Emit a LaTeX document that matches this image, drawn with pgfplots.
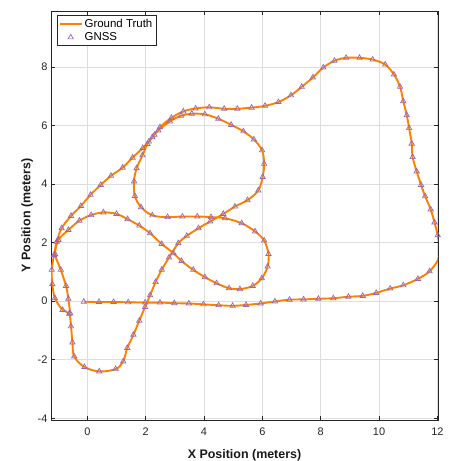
\documentclass[border=0pt]{standalone}
\usepackage{pgfplots}
\pgfplotsset{compat=1.18}
\usepackage{pgfplotstable}
\usepackage{fontspec}
\setmainfont{Liberation Sans}

\definecolor{gtorange}{RGB}{255,128,0}
\definecolor{gnsspurple}{RGB}{148,103,189}
\definecolor{axgray}{RGB}{38,38,38}

\pgfplotsset{
    linelegend/.style={legend image code/.code={\draw[##1] (0bp,0bp) -- (22bp,0bp);}},
    marklegend/.style={legend image code/.code={\draw[mark repeat=2,mark phase=2,##1]
        plot coordinates {(0bp,0bp) (11bp,0bp) (22bp,0bp)};}},
}

% trajectory (metres)
\pgfplotstableread{
x y
-0.12 -0.02
0.40 -0.03
0.90 -0.03
1.40 -0.04
1.98 -0.05
2.49 -0.05
2.98 -0.07
3.48 -0.08
3.98 -0.11
4.50 -0.14
4.98 -0.16
5.44 -0.13
5.94 -0.08
6.43 -0.01
6.93 0.05
7.41 0.06
7.92 0.08
8.43 0.10
8.95 0.15
9.44 0.18
9.90 0.28
10.38 0.43
10.83 0.54
11.33 0.76
11.73 1.02
12.03 1.43
12.07 1.86
12.01 2.25
11.90 2.69
11.77 3.13
11.58 3.58
11.44 3.97
11.29 4.43
11.15 4.92
11.12 5.38
11.03 5.91
10.95 6.35
10.83 6.83
10.72 7.32
10.51 7.74
10.21 8.08
9.78 8.25
9.33 8.31
8.87 8.31
8.47 8.21
8.09 7.98
7.73 7.64
7.35 7.32
6.98 7.03
6.55 6.80
6.09 6.67
5.63 6.61
5.14 6.57
4.69 6.57
4.18 6.62
3.71 6.58
3.29 6.48
2.88 6.26
2.49 5.94
2.30 5.68
2.11 5.45
1.90 5.23
1.55 4.90
1.21 4.56
0.81 4.28
0.46 3.97
0.11 3.63
-0.22 3.25
-0.56 2.91
-0.88 2.49
-1.05 2.03
-1.14 1.58
-1.22 1.07
-1.20 0.58
-1.11 0.10
-0.85 -0.30
-0.62 -0.43
-0.56 -0.86
-0.51 -1.41
-0.45 -1.89
-0.10 -2.25
0.41 -2.40
0.97 -2.32
1.23 -2.06
1.37 -1.60
1.58 -1.15
1.78 -0.67
1.98 -0.20
2.15 0.20
2.34 0.65
2.55 1.07
2.80 1.49
3.12 1.98
3.41 2.23
3.81 2.49
4.21 2.72
4.66 2.98
5.06 3.23
5.49 3.45
5.86 3.78
6.01 4.24
6.06 4.69
5.99 5.15
5.71 5.52
5.35 5.80
4.93 6.02
4.49 6.23
4.03 6.38
3.58 6.40
3.21 6.33
2.83 6.14
2.43 5.83
2.23 5.60
2.06 5.37
1.89 4.98
1.69 4.54
1.60 4.09
1.63 3.59
1.84 3.21
2.23 2.93
2.75 2.87
3.26 2.89
3.77 2.89
4.24 2.87
4.72 2.83
5.29 2.66
5.75 2.38
6.06 2.07
6.21 1.61
6.18 1.18
5.98 0.78
5.67 0.52
5.23 0.41
4.86 0.44
4.43 0.61
4.03 0.82
3.63 1.07
3.23 1.37
2.95 1.64
2.55 1.95
2.15 2.32
1.78 2.58
1.38 2.80
1.00 2.98
0.55 3.03
0.13 2.94
-0.27 2.75
-0.65 2.43
-0.99 2.09
-1.10 1.60
-0.91 1.07
-0.73 0.52
-0.65 0.08
-0.59 -0.41
}\traj

\begin{document}
\begin{tikzpicture}
\path[use as bounding box] (-51bp,-41bp) rectangle (402bp,420bp);
\begin{axis}[
    scale only axis,
    width=387bp, height=409bp,
    xmin=-1.245, xmax=12.02,
    ymin=-4.06, ymax=9.91,
    xtick={0,2,...,12},
    ytick={-4,-2,...,8},
    grid=major,
    grid style={black!13, line width=0.5pt},
    tick align=inside,
    tick pos=both,
    major tick length=4bp,
    axis line style={axgray, line width=0.6pt},
    every tick/.style={axgray, line width=0.6pt},
    /pgf/number format/assume math mode=true,
    tick label style={font=\fontsize{11}{13}\selectfont, text=axgray},
    xticklabel style={yshift=-4bp},
    xlabel={\bfseries X Position (meters)},
    ylabel={\bfseries Y Position (meters)},
    label style={font=\fontsize{12.5}{14}\selectfont, text=black!90},
    xlabel style={yshift=-7bp},
    ylabel style={yshift=-2bp},
    legend style={at={(0.0155,0.99)}, anchor=north west,
        draw=axgray, line width=0.5pt,
        font=\fontsize{11.5}{13}\selectfont,
        inner sep=1.5pt, row sep=0pt},
    legend cell align=left,
]
\addplot[gtorange, line width=1.9pt, smooth, tension=0.55, linelegend] table {\traj};
\addlegendentry{Ground Truth}
\addplot[only marks, mark=triangle, mark size=3.1pt,
    mark options={draw=gnsspurple, line width=0.7pt}, marklegend] table {\traj};
\addlegendentry{GNSS}
\end{axis}
\end{tikzpicture}
\end{document}
